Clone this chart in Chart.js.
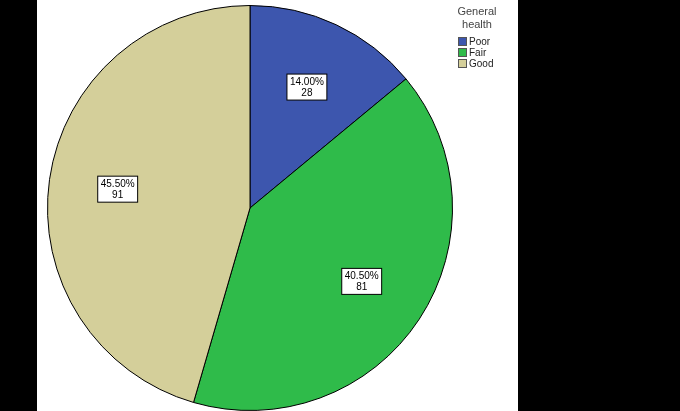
<!DOCTYPE html>
<html><head>
<script src="https://cdn.jsdelivr.net/npm/chart.js@4"></script>
<style>
body{margin:0;background:#000;width:680px;height:411px;overflow:hidden}
#panel{position:absolute;left:37px;top:0;width:481px;height:411px;background:#fff}
canvas{position:absolute;left:0;top:0}
</style></head><body>
<div id="panel"><canvas id="c" width="481" height="411"></canvas></div>
<script>
const categories = ['Poor', 'Fair', 'Good']
const counts = [28, 81, 91]
const percents = ['14.00%', '40.50%', '45.50%']
const colors = ['#3d56ae', '#2fbb4a', '#d4cf9a']
const legendTitle = ['General', 'health']

const labelPlugin = {
  id: 'boxLabels',
  afterDraw(chart) {
    const ctx = chart.ctx
    const meta = chart.getDatasetMeta(0)
    ctx.save()
    ctx.font = '10px Arial, "Liberation Sans"'
    ctx.textAlign = 'center'
    ctx.textBaseline = 'middle'
    meta.data.forEach((arc, i) => {
      const mid = (arc.startAngle + arc.endAngle) / 2
      const r = arc.outerRadius * 0.66
      const x = arc.x + Math.cos(mid) * r
      const y = arc.y + Math.sin(mid) * r
      const w = ctx.measureText(percents[i]).width + 6
      ctx.fillStyle = '#fff'
      ctx.fillRect(x - w / 2, y - 13, w, 26)
      ctx.strokeStyle = '#000'
      ctx.lineWidth = 1
      ctx.strokeRect(x - w / 2, y - 13, w, 26)
      ctx.fillStyle = '#000'
      ctx.fillText(percents[i], x, y - 5)
      ctx.fillText(String(counts[i]), x, y + 6)
    })
    // legend
    ctx.font = '11px Arial, "Liberation Sans"'
    ctx.fillStyle = '#444'
    legendTitle.forEach((t, i) => ctx.fillText(t, 440, 12 + i * 13))
    ctx.textAlign = 'left'
    ctx.font = '10px Arial, "Liberation Sans"'
    categories.forEach((c, i) => {
      const y = 41 + i * 11
      ctx.fillStyle = colors[i]
      ctx.fillRect(421, y - 4, 9, 9)
      ctx.strokeStyle = '#555'
      ctx.strokeRect(421.5, y - 3.5, 8, 8)
      ctx.fillStyle = '#222'
      ctx.fillText(c, 432, y + 1)
    })
    ctx.restore()
  }
}

new Chart(document.getElementById('c'), {
  type: 'pie',
  data: {
    labels: categories,
    datasets: [{ data: counts, backgroundColor: colors, borderColor: '#000', borderWidth: 1 }]
  },
  options: {
    responsive: false,
    animation: false,
    layout: { padding: { top: 5, bottom: 0, left: 10, right: 65 } },
    plugins: { legend: { display: false }, tooltip: { enabled: false } }
  },
  plugins: [labelPlugin]
})
</script>
</body></html>
